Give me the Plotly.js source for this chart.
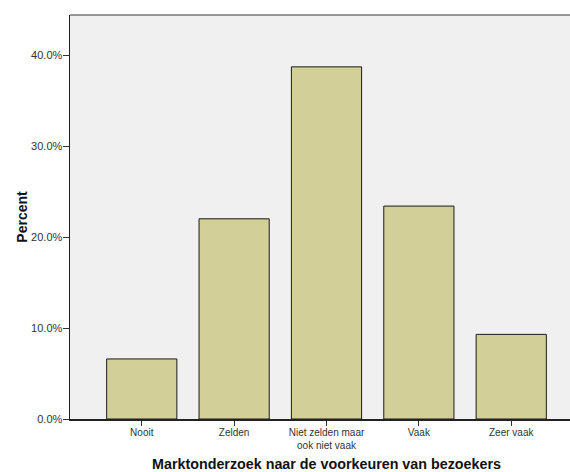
<!DOCTYPE html>
<html>
<head>
<meta charset="utf-8">
<script src="https://cdn.plot.ly/plotly-3.0.1.min.js"></script>
<style>html,body{margin:0;padding:0;background:#fff;overflow:hidden}#wrap{width:570px;height:472px;overflow:hidden}#chart{width:583px;height:472px}</style>
</head>
<body>
<div id="wrap"><div id="chart"></div></div>
<script>
const categories = ["Nooit", "Zelden", "Niet zelden maar<br>ook niet vaak", "Vaak", "Zeer vaak"];
const percents = [6.6, 22.0, 38.7, 23.4, 9.3];
const yTickVals = [0, 10, 20, 30, 40];
const yTickText = ["0.0%", "10.0%", "20.0%", "30.0%", "40.0%"];

const trace = {
  type: "bar",
  x: [0, 1, 2, 3, 4],
  y: percents,
  marker: {color: "#d3cf99", line: {color: "#1a1a1a", width: 1}},
  hoverinfo: "none"
};

const layout = {
  width: 583, height: 472,
  margin: {l: 70, r: 0, t: 15, b: 53},
  paper_bgcolor: "#ffffff",
  plot_bgcolor: "#f0f0f0",
  bargap: 0.24,
  showlegend: false,
  font: {family: "Liberation Sans, Arial, sans-serif", color: "#333333", size: 11},
  xaxis: {
    range: [-0.777, 4.777],
    tickvals: [0, 1, 2, 3, 4],
    ticktext: categories,
    ticks: "outside", ticklen: 5, tickcolor: "#333333", tickwidth: 1,
    ticklabelstandoff: -2,
    showline: true, linecolor: "#222222", linewidth: 1.5,
    showgrid: false, zeroline: false,
    tickfont: {size: 10, color: "#333333"},
    title: {text: "Marktonderzoek naar de voorkeuren van bezoekers", font: {size: 14.3, color: "#111111", family: "Liberation Sans, Arial, sans-serif", weight: "bold"}, standoff: 12}
  },
  yaxis: {
    range: [0, 44.4],
    tickvals: yTickVals,
    ticktext: yTickText,
    ticks: "outside", ticklen: 6, tickcolor: "#333333", tickwidth: 1,
    ticklabelstandoff: -2,
    showline: true, linecolor: "#222222", linewidth: 1.5,
    showgrid: false, zeroline: false,
    tickfont: {size: 11, color: "#333333"},
    title: {text: "Percent", font: {size: 14, color: "#111111", family: "Liberation Sans, Arial, sans-serif", weight: "bold"}, standoff: 0}
  },
  shapes: [{type: "line", xref: "paper", yref: "paper", x0: 0, x1: 1, y0: 1, y1: 1, line: {color: "#777777", width: 1.5}}]
};

Plotly.newPlot("chart", [trace], layout, {staticPlot: true, displayModeBar: false});
</script>
</body>
</html>
